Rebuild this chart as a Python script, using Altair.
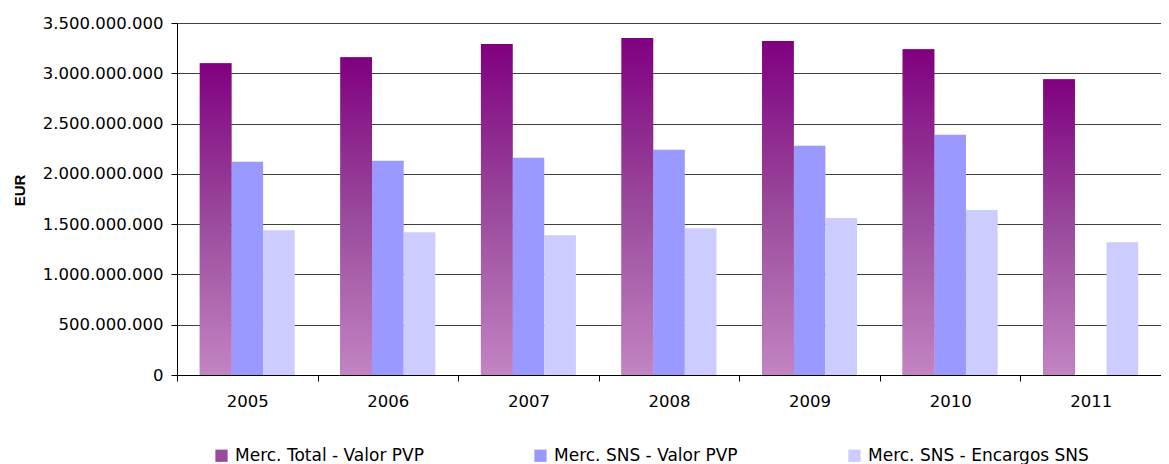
import altair as alt
import pandas as pd

years = ["2005", "2006", "2007", "2008", "2009", "2010", "2011"]
series = ["Merc. Total - Valor PVP", "Merc. SNS - Valor PVP", "Merc. SNS - Encargos SNS"]
total = [3.10e9, 3.16e9, 3.29e9, 3.35e9, 3.32e9, 3.24e9, 2.94e9]
sns_pvp = [2.12e9, 2.13e9, 2.16e9, 2.24e9, 2.28e9, 2.39e9, None]
sns_enc = [1.44e9, 1.42e9, 1.39e9, 1.46e9, 1.56e9, 1.64e9, 1.32e9]
y_ticks = [0, 5e8, 1e9, 1.5e9, 2e9, 2.5e9, 3e9, 3.5e9]

rows = []
for i, yr in enumerate(years):
    for s, vals in zip(series, [total, sns_pvp, sns_enc]):
        if vals[i] is not None:
            rows.append({"year": yr, "series": s, "value": vals[i]})
df = pd.DataFrame(rows)

grad_top, grad_bot = "#800080", "#C284C2"
gradient = alt.LinearGradient(
    gradient="linear", x1=0, y1=0, x2=0, y2=1,
    stops=[alt.GradientStop(color=grad_top, offset=0),
           alt.GradientStop(color="#9A4A9C", offset=0.5),
           alt.GradientStop(color=grad_bot, offset=1)])

FONT = "DejaVu Sans"

x_axis = alt.Axis(labelAngle=0, tickBand="extent", domainColor="black",
                  tickColor="black", tickSize=6, labelPadding=12,
                  labelFont=FONT, labelFontSize=16.5, labelColor="black",
                  grid=False, title=None)
x = alt.X("year:N", sort=years, title=None,
          scale=alt.Scale(paddingInner=0, paddingOuter=0), axis=x_axis)
xo = alt.XOffset("series:N", sort=series,
                 scale=alt.Scale(domain=series, paddingInner=0, paddingOuter=0.72))
y_axis = alt.Axis(values=y_ticks,
                  labelExpr="join(split(format(datum.value, ','), ','), '.')",
                  title="EUR", titleFont="Liberation Sans", titleFontSize=15,
                  titleFontWeight="bold", titleColor="black", titleAngle=270,
                  titleX=-158, titleY=167, titleAlign="center", titleBaseline="middle",
                  labelFont=FONT, labelFontSize=16.5, labelColor="black",
                  labelPadding=8, tickSize=6, tickColor="black",
                  domainColor="black", gridColor="#404040", gridWidth=1, grid=True)
y = alt.Y("value:Q", scale=alt.Scale(domain=[0, 3.5e9], nice=False), axis=y_axis)

legend = alt.Legend(orient="none", legendX=36, legendY=424, direction="horizontal",
                    title=None, symbolType="square",
                    symbolSize=150, symbolStrokeWidth=0, symbolOpacity=1,
                    labelFont=FONT, labelFontSize=17, labelColor="black",
                    labelLimit=400, labelOffset=5, columnPadding=108)
color = alt.Color("series:N", sort=series,
                  scale=alt.Scale(domain=series, range=["#9A4A9C", "#9999FF", "#CCCCFF"]),
                  legend=legend)

base = alt.Chart(df).mark_bar().encode(x=x, xOffset=xo, y=y, color=color)
overlay = alt.Chart(df).transform_filter(
    alt.datum.series == series[0]
).mark_bar(color=gradient).encode(x=x, xOffset=xo, y=y)

chart = alt.layer(base, overlay).properties(
    width=984, height=352,
    autosize=alt.AutoSizeParams(type="none"),
    padding={"left": 169, "top": 15, "right": 0, "bottom": 89},
    background="white",
).configure_view(stroke=None)

chart.save("out.html", embed_options={"renderer": "svg", "actions": False})
